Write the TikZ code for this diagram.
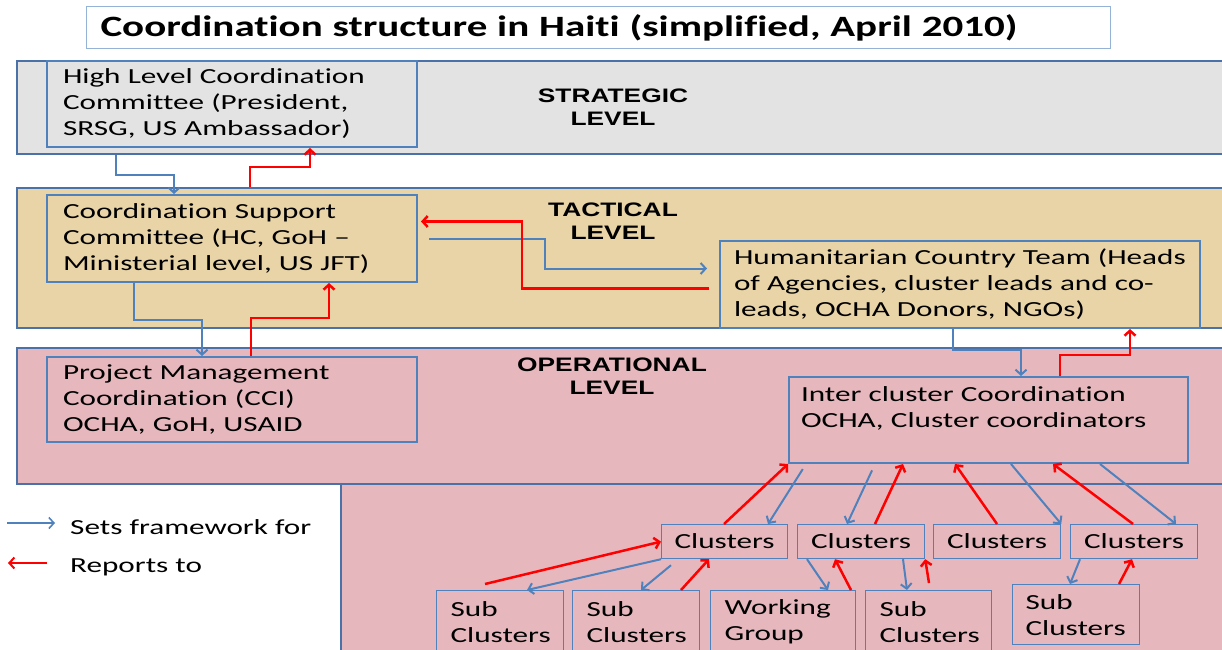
\documentclass[tikz,border=0pt]{standalone}
\usepackage{fontspec}
\usetikzlibrary{arrows.meta, positioning, calc}

\newfontfamily\bodyfont{Carlito}[FakeStretch=1.45, Ligatures=NoCommon]
\newfontfamily\headfont{Carlito}[FakeStretch=1.39, Ligatures=NoCommon]
\newfontfamily\levelfont{Liberation Sans}[FakeStretch=1.35]

\definecolor{boxblue}{HTML}{4F81BD}
\definecolor{bandline}{HTML}{4A72A8}
\definecolor{titleline}{HTML}{95B3D7}
\definecolor{stratfill}{HTML}{E3E3E3}
\definecolor{tactfill}{HTML}{E8D4A6}
\definecolor{operfill}{HTML}{E6B8BD}
\definecolor{reportred}{HTML}{FF0000}

\begin{document}
\begin{tikzpicture}[
    x=1pt, y=-1pt,
    band/.style={draw=bandline, line width=2.2pt, anchor=north west, inner sep=0pt, minimum width=1214pt},
    box/.style={draw=boxblue, line width=2pt, anchor=north west, inner ysep=0pt, align=left,
        font=\bodyfont\fontsize{21.5}{26}\selectfont},
    clus/.style={draw=boxblue, line width=1.2pt, anchor=north west, inner sep=0pt, minimum height=34pt,
        font=\bodyfont\fontsize{21.5}{26}\selectfont},
    level/.style={align=center, font=\levelfont\bfseries\fontsize{19.5}{23}\selectfont},
    sets/.style={draw=boxblue, line width=2pt, -{Straight Barb[length=5pt, width=11pt]}},
    reports/.style={draw=reportred, line width=2.5pt, -{Straight Barb[length=5pt, width=11pt]}}
]
    \useasboundingbox (0,0) rectangle (1222,649);

    % === Level bands ===
    \node[band, fill=stratfill, minimum height=93pt] (strat) at (16,60) {};
    \node[band, fill=tactfill, minimum height=140pt] (tact) at (16,187) {};
    \node[band, fill=operfill, minimum height=136pt] (oper) at (16,347) {};
    \node[band, fill=operfill, minimum width=890pt, minimum height=180pt] (operlow) at (340,483) {};

    \node[level] (stratlbl) at (613,107) {STRATEGIC\\LEVEL};
    \node[level] (tactlbl) at (613,221) {TACTICAL\\LEVEL};
    \node[level] (operlbl) at (612,376) {OPERATIONAL\\LEVEL};

    % === Title ===
    \node[draw=titleline, line width=1pt, fill=white, anchor=north west, inner xsep=14pt,
        text width=996pt, minimum height=42pt, align=left,
        font=\headfont\bfseries\fontsize{29.5}{34}\selectfont] (title) at (86,6)
        {Coordination structure in Haiti (simplified, April 2010)};

    % === Committees ===
    \node[box, inner xsep=16pt, text width=338pt, minimum height=86pt] (hlc) at (46,60)
        {High Level Coordination\\Committee (President,\\SRSG, US Ambassador)};
    \node[box, inner xsep=16pt, text width=338pt, minimum height=87pt] (csc) at (46,194)
        {Coordination Support\\Committee (HC, GoH –\\Ministerial level, US JFT)};
    \node[box, inner xsep=16pt, text width=338pt, minimum height=85pt] (pmc) at (46,356)
        {Project Management\\Coordination (CCI)\\OCHA, GoH, USAID};
    \node[box, inner xsep=14pt, text width=452pt, minimum height=87pt] (hct) at (719,240)
        {Humanitarian Country Team (Heads\\of Agencies, cluster leads and co-\\leads, OCHA Donors, NGOs)};
    \node[box, inner xsep=12pt, text width=375pt, minimum height=86pt] (icc) at (788,376)
        {Inter cluster Coordination\\OCHA, Cluster coordinators\\\mbox{}};

    % === Clusters ===
    \node[clus, minimum width=126pt] (c1) at (661,524) {Clusters};
    \node[clus, minimum width=127pt] (c2) at (797,524) {Clusters};
    \node[clus, minimum width=127pt] (c3) at (933,524) {Clusters};
    \node[clus, minimum width=127pt] (c4) at (1070,524) {Clusters};

    % === Sub clusters ===
    \node[box, line width=1.2pt, inner xsep=14pt, text width=99pt, minimum height=62pt] (s1) at (436,590) {Sub\\Clusters};
    \node[box, line width=1.2pt, inner xsep=14pt, text width=99pt, minimum height=62pt] (s2) at (572,590) {Sub\\Clusters};
    \node[box, line width=1.2pt, inner xsep=14pt, text width=117pt, minimum height=62pt] (wg) at (710,590) {Working\\Group};
    \node[box, line width=1.2pt, inner xsep=14pt, text width=98pt, minimum height=62pt] (s3) at (865,590) {Sub\\Clusters};
    \node[box, line width=1.2pt, inner xsep=13pt, text width=101pt, minimum height=60pt] (s4) at (1012,584) {Sub\\Clusters};

    % === Strategic <-> tactical ===
    \draw[sets] ([xshift=70pt]hlc.south west |- strat.south) -- ++(0,20) -| ([xshift=128pt]csc.north west);
    \draw[reports] ([xshift=204pt]csc.north west |- tact.north) -- ++(0,-20) -| ([xshift=264pt]hlc.south west);

    % === Tactical ===
    \draw[sets] ([xshift=11pt]csc.east) -- ++(116,0) |- ([xshift=-12pt, yshift=16pt]hct.west);
    \draw[reports] ([xshift=-10pt, yshift=-4pt]hct.west) -- ++(-187,0) |- ([xshift=3pt, yshift=17pt]csc.east);

    % === Tactical <-> operational ===
    \draw[sets] ([xshift=88pt]csc.south west) -- ++(0,37) -| ([xshift=156pt]pmc.north west);
    \draw[reports] ([xshift=205pt]pmc.north west) -- ++(0,-38) -| ([xshift=283pt]csc.south west);
    \draw[sets] ([xshift=234pt]hct.south west) -- ++(0,21) -| ([xshift=233pt]icc.north west);
    \draw[reports] ([xshift=272pt]icc.north west) -- ++(0,-21) -| ([xshift=411pt]hct.south west);

    % === Inter cluster <-> clusters ===
    \draw[reports] ([xshift=63pt]c1.north west) -- (icc.south west);
    \draw[reports] ([xshift=78pt]c2.north west) -- ([xshift=115pt]icc.south west);
    \draw[reports] ([xshift=64pt]c3.north west) -- ([xshift=167pt]icc.south west);
    \draw[reports] ([xshift=63pt]c4.north west) -- ([xshift=265pt]icc.south west);
    \draw[sets, shorten <=6pt] ([xshift=18pt]icc.south west) -- ([xshift=107pt]c1.north west);
    \draw[sets, shorten <=7pt] ([xshift=87pt]icc.south west) -- ([xshift=50pt]c2.north west);
    \draw[sets] ([xshift=223pt]icc.south west) -- (c3.north east);
    \draw[sets] ([xshift=312pt]icc.south west) -- ([xshift=106pt]c4.north west);

    % === Clusters <-> sub clusters ===
    \draw[sets] (c1.south west) -- ([xshift=91pt]s1.north west);
    \draw[reports] ([xshift=49pt, yshift=6pt]s1.north west) -- (c1.west);
    \draw[sets] ([xshift=10pt, yshift=-6pt]c1.south west) -- ([xshift=69pt]s2.north west);
    \draw[reports] ([xshift=109pt]s2.north west) -- ([xshift=48pt]c1.south west);
    \draw[sets] ([xshift=10pt]c2.south west) -- ([xshift=118pt]wg.north west);
    \draw[reports] ([xshift=141pt]wg.north west) -- ([xshift=38pt]c2.south west);
    \draw[sets] ([xshift=106pt]c2.south west) -- ([xshift=42pt]s3.north west);
    \draw[reports] ([xshift=64pt, yshift=7pt]s3.north west) -- (c2.south east);
    \draw[sets] ([xshift=10pt]c4.south west) -- ([xshift=58pt]s4.north west);
    \draw[reports] ([xshift=107pt]s4.north west) -- ([xshift=62pt]c4.south west);

    % === Legend ===
    \node[anchor=west, inner sep=0pt, font=\bodyfont\fontsize{21.5}{26}\selectfont] (lgsets) at (70,527) {Sets framework for};
    \node[anchor=west, inner sep=0pt, font=\bodyfont\fontsize{21.5}{26}\selectfont] (lgrep) at (70,567) {Reports to};
    \coordinate (lgsetsA) at (7,523);
    \coordinate (lgrepA) at (47,563);
    \draw[sets, line width=1.6pt] (lgsetsA) -- ([xshift=-15pt, yshift=4pt]lgsets.west);
    \draw[reports, line width=2pt] (lgrepA) -- ([xshift=-62pt, yshift=4pt]lgrep.west);

\end{tikzpicture}
\end{document}
